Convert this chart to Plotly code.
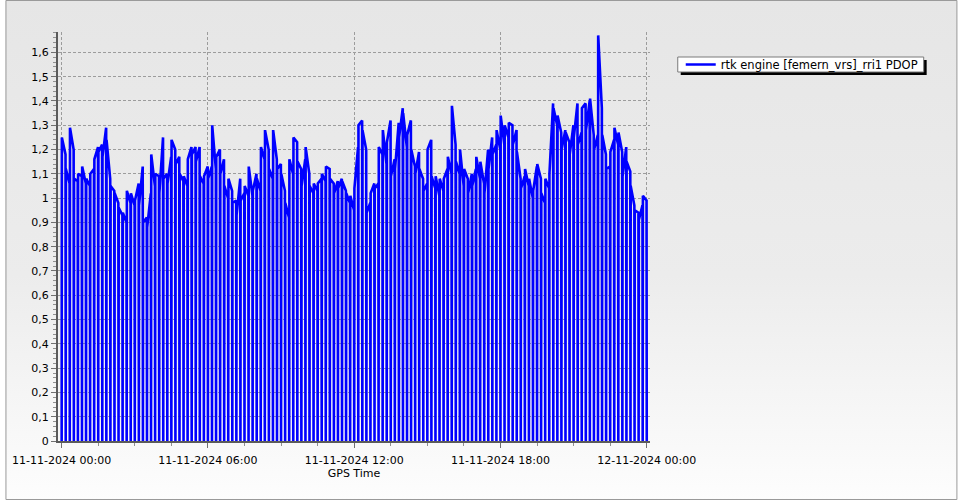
import base64
import pandas as pd
import plotly.graph_objects as go

# ---------------- data ----------------
series_name = "rtk engine [femern_vrs]_rri1 PDOP"
day_start = "2024-11-11 00:00"
day_minutes = 1440
dropout_every_minutes = 10          # the series drops to 0 every 10 min
x_tick_labels_hours = [0, 6, 12, 18, 24]

# PDOP, two readings per 10-min block (start, end), 12 per hour
pdop_hour = [
    [1.25, 1.18, 1.12, 1.06, 1.29, 1.20, 1.08, 1.07, 1.10, 1.09, 1.13, 1.06],  # 00
    [1.08, 1.05, 1.10, 1.12, 1.16, 1.21, 1.19, 1.22, 1.17, 1.29, 1.24, 1.08],  # 01
    [1.05, 1.03, 1.02, 0.98, 0.96, 0.93, 0.94, 0.90, 1.03, 0.98, 1.02, 0.97],  # 02
    [0.99, 1.06, 0.97, 1.13, 0.90, 0.92, 0.88, 1.02, 1.18, 1.05, 1.10, 1.09],  # 03
    [1.02, 1.25, 1.08, 1.10, 1.06, 1.17, 1.24, 1.20, 1.14, 1.17, 1.10, 1.07],  # 04
    [1.09, 1.05, 1.16, 1.21, 1.18, 1.21, 1.15, 1.21, 1.09, 1.06, 1.09, 1.13],  # 05
    [1.08, 1.13, 1.30, 1.12, 1.17, 1.20, 1.10, 1.16, 1.05, 1.00, 1.08, 1.03],  # 06
    [0.98, 0.99, 0.93, 1.08, 0.99, 1.02, 1.05, 1.01, 1.13, 1.01, 1.03, 1.10],  # 07
    [1.08, 1.03, 1.21, 1.16, 1.28, 1.20, 1.12, 1.08, 1.28, 1.16, 1.12, 1.14],  # 08
    [1.10, 1.03, 0.98, 0.92, 1.16, 1.10, 1.25, 1.23, 1.15, 1.12, 1.05, 1.16],  # 09
    [1.21, 1.10, 1.05, 1.02, 1.06, 1.03, 1.06, 1.08, 1.10, 1.07, 1.13, 1.12],  # 10
    [1.08, 1.06, 1.02, 1.07, 1.04, 1.08, 1.07, 1.03, 1.02, 0.98, 1.01, 0.95],  # 11
    [1.04, 1.21, 1.30, 1.32, 1.28, 1.20, 0.94, 0.98, 1.02, 1.06, 1.04, 1.06],  # 12
    [1.21, 1.18, 1.28, 1.14, 1.23, 1.32, 1.09, 1.16, 1.12, 1.31, 1.25, 1.37],  # 13
    [1.35, 1.21, 1.26, 1.32, 1.20, 1.13, 1.10, 1.19, 1.12, 1.08, 1.03, 1.06],  # 14
    [1.20, 1.24, 1.09, 1.04, 1.09, 1.01, 1.08, 1.03, 1.08, 1.12, 1.17, 1.10],  # 15
    [1.38, 1.22, 1.15, 1.10, 1.20, 1.05, 1.12, 1.08, 1.02, 1.10, 1.05, 1.12],  # 16
    [1.17, 1.08, 1.15, 1.06, 1.02, 1.20, 1.12, 1.25, 1.18, 1.22, 1.28, 1.20],  # 17
    [1.34, 1.22, 1.30, 1.25, 1.31, 1.30, 1.22, 1.28, 1.19, 1.08, 1.04, 1.09],  # 18
    [1.12, 1.05, 1.08, 1.00, 1.03, 1.13, 1.14, 1.08, 1.02, 0.98, 1.08, 1.04],  # 19
    [1.10, 1.39, 1.37, 1.30, 1.34, 1.27, 1.20, 1.28, 1.27, 1.23, 1.18, 1.30],  # 20
    [1.25, 1.39, 1.22, 1.27, 1.37, 1.39, 1.28, 1.40, 1.41, 1.26, 1.20, 1.26],  # 21
    [1.67, 1.37, 1.26, 1.18, 1.12, 1.13, 1.19, 1.24, 1.29, 1.22, 1.27, 1.19],  # 22
    [1.09, 1.21, 1.15, 1.11, 1.05, 0.97, 0.95, 0.94, 0.91, 0.97, 1.01, 0.99],  # 23
]

# ---------------- build series (block readings + 0 dropouts) ----------------
t0 = pd.Timestamp(day_start)
readings = [v for hour in pdop_hour for v in hour]
xs, ys = [], []
for k in range(len(readings) // 2):
    tb = t0 + pd.Timedelta(minutes=k * dropout_every_minutes)
    xs += [tb, tb + pd.Timedelta(seconds=30),
           tb + pd.Timedelta(minutes=dropout_every_minutes) - pd.Timedelta(seconds=30)]
    ys += [0.0, readings[2 * k], readings[2 * k + 1]]
xs.append(t0 + pd.Timedelta(minutes=day_minutes))
ys.append(0.0)

# ---------------- layout geometry ----------------
W, H = 960, 500
ML, MR, MT, MB = 53, 310, 32, 59
PW, PH = W - ML - MR, H - MT - MB


def px(x):
    return (x - ML) / PW


def py(y):
    return (H - MB - y) / PH


grad_svg = (
    '<svg xmlns="http://www.w3.org/2000/svg" width="960" height="500" preserveAspectRatio="none">'
    '<defs><linearGradient id="g" x1="0" y1="0" x2="0" y2="1">'
    '<stop offset="0" stop-color="#e6e6e6"/><stop offset="0.55" stop-color="#ececec"/>'
    '<stop offset="1" stop-color="#fdfdfd"/></linearGradient></defs>'
    '<rect width="960" height="500" fill="url(#g)"/></svg>'
)
grad_src = "data:image/svg+xml;base64," + base64.b64encode(grad_svg.encode()).decode()

font_main = "DejaVu Sans"

fig = go.Figure()
fig.add_trace(go.Scatter(
    x=xs, y=ys, mode="lines", name=series_name,
    line=dict(color="#0000ff", width=2.6),
))

fig.update_layout(
    width=W, height=H,
    margin=dict(l=ML, r=MR, t=MT, b=MB, pad=0),
    paper_bgcolor="#ffffff",
    plot_bgcolor="rgba(0,0,0,0)",
    separators=",.",
    font=dict(family=font_main, size=11, color="#000000"),
    showlegend=True,
    legend=dict(
        x=px(681), y=py(64.5), xanchor="left", yanchor="middle",
        bgcolor="rgba(0,0,0,0)", borderwidth=0, itemwidth=30,
        font=dict(family=font_main, size=11.5, color="#000000"),
    ),
    images=[dict(
        source=grad_src, xref="paper", yref="paper",
        x=px(0), y=py(0), sizex=W / PW, sizey=H / PH,
        xanchor="left", yanchor="top", sizing="stretch", layer="below",
    )],
    shapes=[
        dict(type="rect", xref="paper", yref="paper",
             x0=px(681), x1=px(929), y0=py(60), y1=py(75),
             fillcolor="#000000", line=dict(width=0), layer="above"),
        dict(type="rect", xref="paper", yref="paper",
             x0=px(678), x1=px(926), y0=py(57), y1=py(72),
             fillcolor="#ffffff", line=dict(color="#7a7a7a", width=1), layer="above"),
        dict(type="rect", xref="paper", yref="paper",
             x0=px(0.5), x1=px(959.5), y0=py(0.5), y1=py(499.5),
             fillcolor="rgba(0,0,0,0)", line=dict(color="#9a9a9a", width=1), layer="above"),
    ],
)

fig.update_xaxes(
    type="date",
    range=[t0 - pd.Timedelta(minutes=9), t0 + pd.Timedelta(minutes=day_minutes + 8)],
    tickmode="array",
    tickvals=[t0 + pd.Timedelta(hours=h) for h in x_tick_labels_hours],
    ticktext=[(t0 + pd.Timedelta(hours=h)).strftime("%d-%m-%Y %H:%M") for h in x_tick_labels_hours],
    ticks="outside", ticklen=5, tickwidth=1, tickcolor="#707070",
    ticklabelstandoff=3,
    minor=dict(tickmode="linear", tick0=t0, dtick=5400000, ticks="outside",
               ticklen=3, tickcolor="#909090", showgrid=False),
    showgrid=True, gridcolor="#9c9c9c", gridwidth=1, griddash="3px,2px",
    showline=True, linecolor="#5a5a5a", linewidth=2,
    zeroline=False,
    tickfont=dict(family=font_main, size=11, color="#000000"),
    title=dict(text="GPS Time", standoff=1,
               font=dict(family=font_main, size=11, color="#000000")),
    fixedrange=True,
)

fig.update_yaxes(
    range=[0, 1.684],
    tickmode="linear", tick0=0, dtick=0.1,
    ticks="outside", ticklen=5, tickwidth=1, tickcolor="#707070",
    minor=dict(tickmode="linear", tick0=0, dtick=0.02, ticks="outside",
               ticklen=3, tickcolor="#909090", showgrid=False),
    showgrid=True, gridcolor="#9c9c9c", gridwidth=1, griddash="3px,2px",
    showline=True, linecolor="#5a5a5a", linewidth=2,
    zeroline=False,
    tickfont=dict(family=font_main, size=11, color="#000000"),
    fixedrange=True,
)

fig.write_html(
    "out.html",
    config={"displayModeBar": False, "staticPlot": False},
    post_script="document.body.style.margin='0';document.body.style.overflow='hidden';",
)
